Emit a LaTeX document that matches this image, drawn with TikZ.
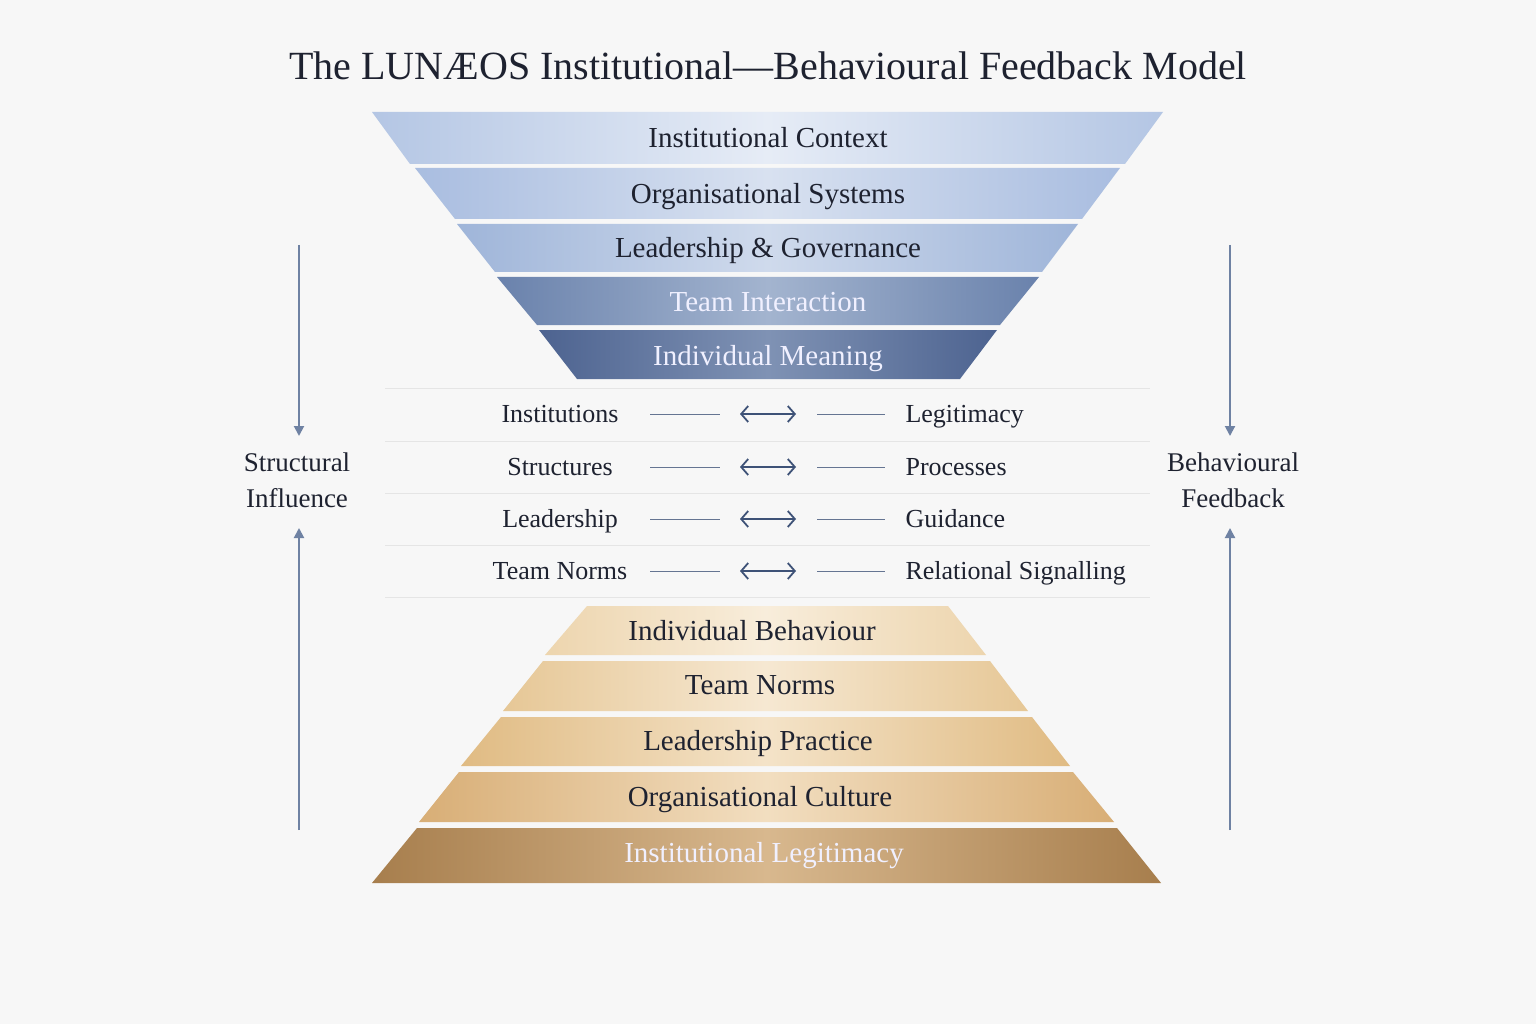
\documentclass[tikz,border=0pt]{standalone}
\usepackage{fontspec}
\setmainfont{Liberation Serif}
\usetikzlibrary{arrows.meta}
\definecolor{t1e}{HTML}{B4C6E4}\definecolor{t1m}{HTML}{E6ECF6}
\definecolor{t2e}{HTML}{A9BDE0}\definecolor{t2m}{HTML}{D8E1F0}
\definecolor{t3e}{HTML}{9FB5D9}\definecolor{t3m}{HTML}{CFDAEC}
\definecolor{t4e}{HTML}{6A82AC}\definecolor{t4m}{HTML}{A3B4CF}
\definecolor{t5e}{HTML}{4D6390}\definecolor{t5m}{HTML}{7F92B4}
\definecolor{b1e}{HTML}{EDD5AE}\definecolor{b1m}{HTML}{F8EDDB}
\definecolor{b2e}{HTML}{E6C796}\definecolor{b2m}{HTML}{F6E8D2}
\definecolor{b3e}{HTML}{E0BB83}\definecolor{b3m}{HTML}{F4E3C8}
\definecolor{b4e}{HTML}{D8AE76}\definecolor{b4m}{HTML}{F2DEC0}
\definecolor{b5e}{HTML}{A77E4D}\definecolor{b5m}{HTML}{D8B88E}
\definecolor{ink}{HTML}{1E2230}
\definecolor{arr}{HTML}{3E5277}
\definecolor{sidec}{HTML}{6F82A3}
\begin{document}
\begin{tikzpicture}[x=1pt,y=-1pt,
  lab/.style={font=\fontsize{29}{32}\selectfont,text=ink,anchor=base},
  wlab/.style={font=\fontsize{29}{32}\selectfont,text=white!94!blue,anchor=base},
  mid/.style={font=\fontsize{26}{29}\selectfont,text=ink,anchor=base},
  sep/.style={draw=black!10,line width=0.8pt},
  conn/.style={draw=arr!80,line width=0.8pt},
  dbl/.style={draw=arr,line width=1.8pt,{Straight Barb[length=7pt,width=16pt]}-{Straight Barb[length=7pt,width=16pt]}},
  side/.style={draw=sidec,line width=2pt,-{Triangle[length=10pt,width=10pt]}},
]
\fill[black!3] (0,0) rectangle (1536,1024);
\useasboundingbox (0,0) rectangle (1536,1024);
\node[font=\fontsize{40}{44}\selectfont,text=ink,anchor=base] (title) at (768,80) {The LUN\AE OS Institutional—Behavioural Feedback Model};
\newcommand{\trap}[9]{%
  \shade[left color=#7,right color=#7,middle color=#8] (#3,#1) -- (#4,#1) -- (#6,#2) -- (#5,#2) -- cycle;}
\trap{112}{164}{372}{1163}{410}{1125}{t1e}{t1m}{t1}
\trap{168}{219}{415}{1120}{455}{1082}{t2e}{t2m}{t2}
\trap{224}{272}{457}{1078}{495}{1042}{t3e}{t3m}{t3}
\trap{277}{325}{497}{1039}{537}{1000}{t4e}{t4m}{t4}
\trap{330}{379}{539}{997}{577}{960}{t5e}{t5m}{t5}
\node[lab] (l1) at (768,148) {Institutional Context};
\node[lab] (l2) at (768,204) {Organisational Systems};
\node[lab] (l3) at (768,258) {Leadership \& Governance};
\node[wlab] (l4) at (768,311) {Team Interaction};
\node[wlab] (l5) at (768,365) {Individual Meaning};
\trap{606}{655}{587}{948}{545}{986}{b1e}{b1m}{b1}
\trap{661}{711}{543}{990}{503}{1028}{b2e}{b2m}{b2}
\trap{717}{766}{501}{1032}{461}{1070}{b3e}{b3m}{b3}
\trap{772}{822}{459}{1073}{419}{1114}{b4e}{b4m}{b4}
\trap{828}{883}{417}{1117}{372}{1161}{b5e}{b5m}{b5}
\node[lab] (m1) at (752,640) {Individual Behaviour};
\node[lab] (m2) at (760,694) {Team Norms};
\node[lab] (m3) at (758,750) {Leadership Practice};
\node[lab] (m4) at (760,806) {Organisational Culture};
\node[wlab] (m5) at (764,862) {Institutional Legitimacy};
\foreach \y in {388,441,493,545,597} \draw[sep] (385,\y) -- (1150,\y);
\foreach \y/\a/\b/\n in {414/Institutions/Legitimacy/r1,467/Structures/Processes/r2,519/Leadership/Guidance/r3,571/Team Norms/Relational Signalling/r4}{
  \node[mid] (\n l) at (560,\y+8) {\a};
  \node[mid,anchor=base west] (\n r) at (902,\y+8) {\b};
  \coordinate (\n a) at (650,\y); \coordinate (\n b) at (720,\y);
  \coordinate (\n c) at (740,\y); \coordinate (\n d) at (796,\y);
  \coordinate (\n e) at (817,\y); \coordinate (\n f) at (885,\y);
  \draw[conn] (\n a) -- (\n b);
  \draw[conn] (\n e) -- (\n f);
  \draw[dbl] (\n c) -- (\n d);
}
\node[mid,align=center,font=\fontsize{27}{36}\selectfont,anchor=center] (sl) at (297,480) {Structural\\Influence};
\node[mid,align=center,font=\fontsize{27}{36}\selectfont,anchor=center] (sr) at (1233,480) {Behavioural\\Feedback};
\coordinate (sl1) at (299,245); \coordinate (sl2) at (299,436);
\coordinate (sl3) at (299,830); \coordinate (sl4) at (299,528);
\coordinate (sr1) at (1230,245); \coordinate (sr2) at (1230,436);
\coordinate (sr3) at (1230,830); \coordinate (sr4) at (1230,528);
\draw[side] (sl1) -- (sl2);
\draw[side] (sl3) -- (sl4);
\draw[side] (sr1) -- (sr2);
\draw[side] (sr3) -- (sr4);
\end{tikzpicture}
\end{document}
